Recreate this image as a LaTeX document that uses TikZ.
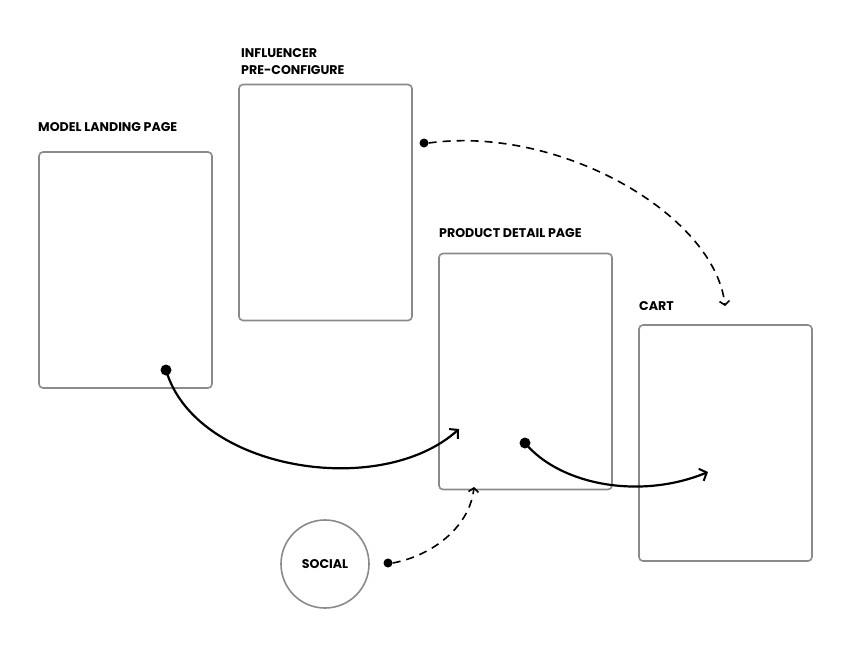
\documentclass[tikz,border=0pt]{standalone}
\usepackage{fontspec}
\setmainfont{Poppins}
\usetikzlibrary{arrows.meta}
\definecolor{boxgray}{HTML}{8A8A8A}
\tikzset{
  page/.style={draw=boxgray, line width=1.6pt, rounded corners=4pt, minimum width=173pt, minimum height=236pt, inner sep=0pt},
  lbl/.style={anchor=base west, inner sep=0pt, font=\fontsize{12.6}{14}\selectfont\bfseries, align=left},
  dotnode/.style={circle, fill=black, inner sep=0pt},
  flow/.style={line width=2.2pt, -{Straight Barb[length=6pt,width=13pt,line width=2pt]}},
  dflow/.style={line width=1.6pt, dash pattern=on 8pt off 6pt, -{Straight Barb[length=4pt,width=10pt,line width=1.6pt]}}
}
\begin{document}
\begin{tikzpicture}[x=1pt,y=-1pt]
\useasboundingbox (0,0) rectangle (848,656);
% pages
\node[page] (mlp) at (125.5,270) {};
\node[page] (inf) at (325.5,202.5) {};
\node[page] (pdp) at (525.5,371.5) {};
\node[page] (cart) at (725.5,443) {};
\node[draw=boxgray, line width=1.6pt, circle, minimum size=88pt, inner sep=0pt, font=\fontsize{12.6}{14}\selectfont\bfseries] (social) at (325,564) {SOCIAL};
% labels
\node[lbl] (lmlp) at (38,131) {MODEL LANDING PAGE};
\node[lbl] (linf1) at (241,57) {INFLUENCER};
\node[lbl] (linf2) at (241,74) {PRE-CONFIGURE};
\node[lbl] (lpdp) at (439,237) {PRODUCT DETAIL PAGE};
\node[lbl] (lcart) at (639,310) {CART};
% dots
\node[dotnode, minimum size=11pt] (d1) at (166,370) {};
\node[dotnode, minimum size=11pt] (d2) at (525,443) {};
\node[dotnode, minimum size=9pt] (d3) at (424,143) {};
\node[dotnode, minimum size=9pt] (d4) at (388,563) {};
% ends
\coordinate (e1) at (459,429);
\coordinate (e2) at (708,472);
\coordinate (e3) at (725,306);
\coordinate (e4) at (474,487);
% connectors
\draw[flow] (d1.center) .. controls (195,470) and (380,500) .. (e1);
\draw[flow] (d2.center) .. controls (560,485) and (640,500) .. (e2);
\draw[dflow] (d3.east) .. controls (560,125) and (715,215) .. (e3);
\draw[dflow] (d4.east) .. controls (435,555) and (470,525) .. (e4);
\end{tikzpicture}
\end{document}
